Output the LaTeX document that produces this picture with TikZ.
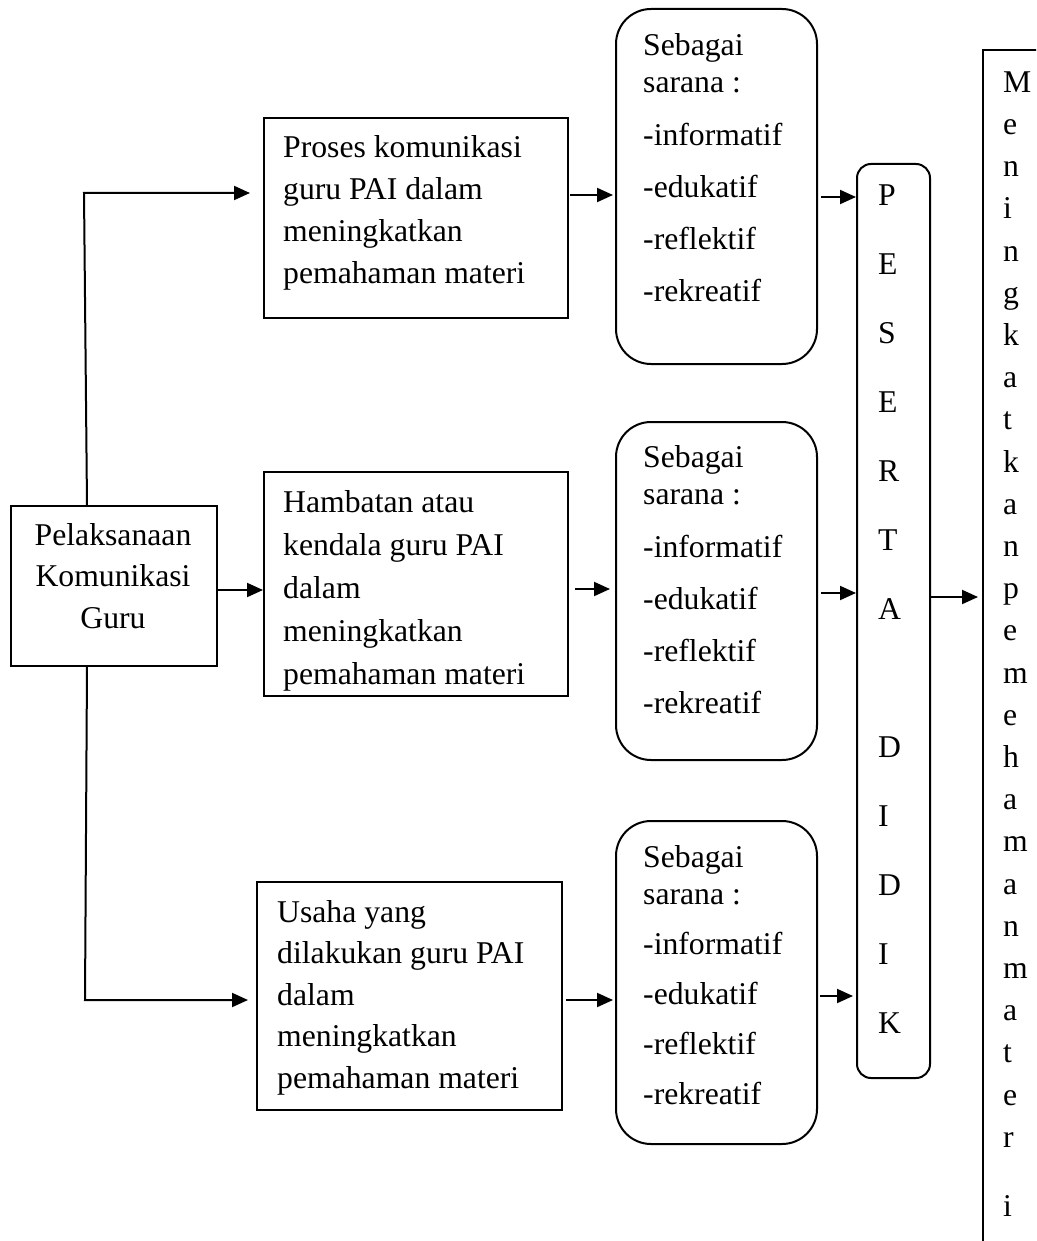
\documentclass[tikz,border=0pt]{standalone}
\usepackage{fontspec}
\setmainfont{Liberation Serif}
\usetikzlibrary{arrows.meta}
\newcommand\firstlinestrut{\rule{0pt}{30pt}}
\begin{document}
\begin{tikzpicture}[x=1pt,y=-1pt,
  sq/.style={draw, line width=2pt, rectangle, inner sep=0pt, anchor=north west},
  rnd/.style={sq, rounded corners=35pt},
  txt/.style={font=\fontsize{31.7}{42}\selectfont, inner sep=0pt, anchor=north west, align=left},
  arr/.style={line width=2pt, -{Triangle[length=16pt,width=14pt]}},
]
\clip (0,0) rectangle (1036,1241);
\useasboundingbox (0,0) rectangle (1036,1241);
\fill[white] (0,0) rectangle (1036,1241);

% left box
\node[sq, minimum width=206pt, minimum height=160pt] (L) at (10,505) {};
\node[txt, align=center, anchor=north, font=\fontsize{31.7}{41.5}\selectfont] (Lt) at (113,515)
  {\firstlinestrut Pelaksanaan\\Komunikasi\\Guru};

% middle column boxes
\node[sq, minimum width=304pt, minimum height=200pt] (b1) at (263,117) {};
\node[txt] (b1t) at (283,127) {\firstlinestrut Proses komunikasi\\guru PAI dalam\\meningkatkan\\pemahaman materi};

\node[sq, minimum width=304pt, minimum height=224pt] (b2) at (263,471) {};
\begin{scope}
\clip (b2.south west) rectangle (b2.north east);
\node[txt, font=\fontsize{31.7}{43}\selectfont] (b2t) at (283,482) {\firstlinestrut Hambatan atau\\kendala guru PAI\\dalam\\meningkatkan\\pemahaman materi};
\end{scope}

\node[sq, minimum width=305pt, minimum height=228pt] (b3) at (256,881) {};
\node[txt, font=\fontsize{31.7}{41.5}\selectfont] (b3t) at (277,892) {\firstlinestrut Usaha yang\\dilakukan guru PAI\\dalam\\meningkatkan\\pemahaman materi};

% rounded boxes
\node[rnd, minimum width=201pt, minimum height=355pt] (r1) at (615,8) {};
\node[txt, font=\fontsize{31.7}{37}\selectfont] (r1t) at (643,25) {\firstlinestrut Sebagai\\sarana :\\[16pt]-informatif\\[15pt]-edukatif\\[15pt]-reflektif\\[15pt]-rekreatif};

\node[rnd, minimum width=201pt, minimum height=338pt] (r2) at (615,421) {};
\node[txt, font=\fontsize{31.7}{37}\selectfont] (r2t) at (643,437) {\firstlinestrut Sebagai\\sarana :\\[16pt]-informatif\\[15pt]-edukatif\\[15pt]-reflektif\\[15pt]-rekreatif};

\node[rnd, minimum width=201pt, minimum height=323pt] (r3) at (615,820) {};
\node[txt, font=\fontsize{31.7}{37}\selectfont] (r3t) at (643,837) {\firstlinestrut Sebagai\\sarana :\\[13pt]-informatif\\[13pt]-edukatif\\[13pt]-reflektif\\[13pt]-rekreatif};

% peserta didik
\node[sq, rounded corners=14pt, minimum width=73pt, minimum height=914pt] (P) at (856,163) {};
\node[txt, font=\fontsize{31.7}{69}\selectfont] (Pt) at (878,175) {\firstlinestrut P\\E\\S\\E\\R\\T\\A\\[69pt]D\\I\\D\\I\\K};

% goal box
\node[sq, minimum width=110pt, minimum height=1260pt] (G) at (982,49) {};
\node[txt, font=\fontsize{31.7}{42.2}\selectfont] (Gt) at (1003,62) {\firstlinestrut M\\e\\n\\i\\n\\g\\k\\a\\t\\k\\a\\n\\p\\e\\m\\e\\h\\a\\m\\a\\n\\m\\a\\t\\e\\r\\[27pt]i};

% helper coordinates
\coordinate (tA) at (84,193);
\coordinate (tB) at (85,1000);
\coordinate (yM) at (0,590);
\coordinate (y1) at (0,195);
\coordinate (y2) at (0,589);
\coordinate (y3) at (0,1000);
\coordinate (z1) at (0,197);
\coordinate (z2) at (0,593);
\coordinate (z3) at (0,996);
\coordinate (zG) at (0,597);

% connectors
\draw[arr, shorten >=13pt] ([xshift=77pt]L.north west) -- (tA) -- (b1.west |- tA);
\draw[arr, shorten >=8pt] ([xshift=77pt]L.south west) -- (tB) -- (b3.west |- tB);
\draw[arr] (L.east |- yM) -- (b2.west |- yM);

\draw[arr, shorten <=1pt, shorten >=2pt] (b1.east |- y1) -- (r1.west |- y1);
\draw[arr, shorten <=6pt, shorten >=5pt] (b2.east |- y2) -- (r2.west |- y2);
\draw[arr, shorten <=3pt, shorten >=2pt] (b3.east |- y3) -- (r3.west |- y3);

\draw[arr, shorten <=3pt] (r1.east |- z1) -- (P.west |- z1);
\draw[arr, shorten <=3pt] (r2.east |- z2) -- (P.west |- z2);
\draw[arr, shorten <=2pt, shorten >=3pt] (r3.east |- z3) -- (P.west |- z3);
\draw[arr, shorten >=4pt] (P.east |- zG) -- (G.west |- zG);
\end{tikzpicture}
\end{document}
